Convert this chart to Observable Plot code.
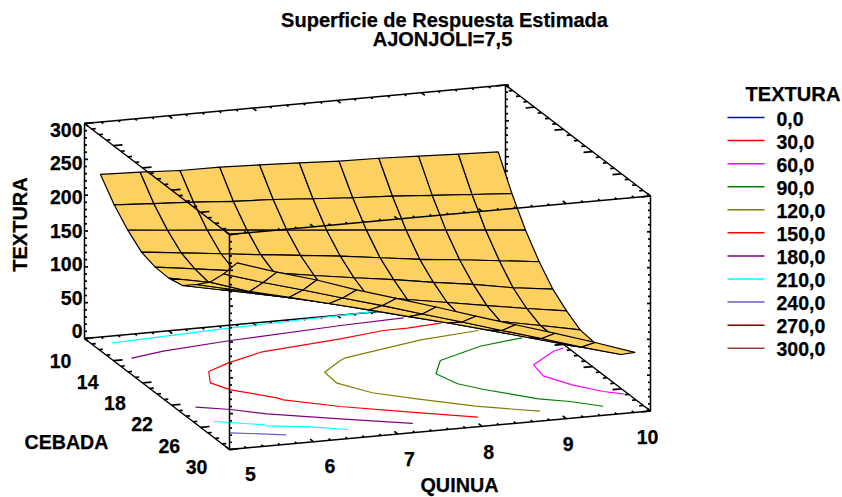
<!DOCTYPE html>
<html><head><meta charset="utf-8">
<style>html,body{margin:0;padding:0;background:#fff}svg{display:block}</style>
<script src="https://cdn.jsdelivr.net/npm/d3@7"></script>
<script src="https://cdn.jsdelivr.net/npm/@observablehq/plot@0.6"></script>
</head><body><div id="chart"></div>
<script>
// ---------- data ----------
const quinuaGrid = [5,5.5,6,6.5,7,7.5,8,8.5,9,9.5,10];
const cebadaGrid = [10,12,14,16,18,20,22,24,26,28,30];
// estimated TEXTURA by cebada row (columns follow quinuaGrid)
const z10 = [230.5,228.5,225.6,225.1,223.2,220.8,217.8,216.8,214.5,212,210.2];
const z12 = [201.2,197.4,194.3,190,187.5,183.2,179.3,176.2,172,168,164.1];
const z14 = [179.2,173.7,168.4,163.1,157.6,152.3,147,141.5,136.2,130.8,125.4];
const z16 = [162.2,155.9,149.1,142.3,135.8,129.4,121.7,113.8,108,101.1,94.3];
const z18 = [155.6,147.7,139.2,130.9,121.7,113,104.8,95.3,87,76.7,69.3];
const z20 = [154.8,143.4,132.5,121.9,111.4,101.6,91,81.2,71.3,61.6,52.6];
const z22 = [159.4,147.4,135.5,123.3,112.1,100,88,76.1,63.2,52,40.2];
const z24 = [176.4,162.9,148.7,135.2,121,107.4,93.2,79.8,65.4,51.3,37.4];
const z26 = [195.3,176.2,162.3,147.7,132.8,117.7,102.8,87,70.6,54.1,41.4];
const z28 = [222.9,205,188.5,171.3,154.8,136.9,119.8,101.8,84.6,66.6,50.2];
const z30 = [254.8,235.8,218.8,198.8,180.8,162.8,143.8,125.8,107.8,88.8,68.8];
const surfaceRows = [z10,z12,z14,z16,z18,z20,z22,z24,z26,z28,z30];

// floor contours: [quinua, cebada] pairs
const c60  = [[9.94,18.60],[9.80,18.95],[9.40,20.85],[9.35,22.76],[9.53,24.63],[9.77,26.17],[9.95,26.83]];
const c90  = [[9.65,16.33],[9.09,17.07],[8.47,18.78],[8.24,20.85],[8.33,22.78],[8.53,24.09],[8.98,26.39],[9.28,27.29],[9.56,28.53]];
const c120 = [[9.29,14.51],[8.55,15.16],[7.50,16.95],[7.41,17.31],[7.08,18.96],[7.06,20.91],[7.30,22.97],[7.69,24.60],[8.21,26.65],[8.82,28.40]];
const c150 = [[8.99,12.78],[8.57,13.09],[8.28,13.11],[7.71,13.82],[6.68,14.80],[6.19,16.04],[5.86,17.14],[5.72,18.99],[5.84,20.41],[6.22,22.38],[6.26,22.80],[6.77,24.71],[7.44,26.66],[8.08,28.45]];
const c180a = [[5.23,13.87],[5.66,13.20],[6.52,12.47],[7.90,11.68],[8.67,11.36]];
const c180b = [[5.23,22.70],[5.57,23.58],[5.89,24.81],[6.60,26.69],[7.30,28.50]];
const c210a = [[5.24,11.11],[6.67,10.46],[8.49,9.90]];
const c210b = [[5.23,25.27],[5.71,26.53],[5.73,26.74],[6.17,27.54],[6.53,28.52]];
const c240 = [[5.24,27.33],[5.80,28.46]];

const legendLabels = ["0,0","30,0","60,0","90,0","120,0","150,0","180,0","210,0","240,0","270,0","300,0"];
const legendColors = ["#0000ff","#ff0000","#ff00ff","#008000","#808000","#ff0000","#800080","#00ffff","#6a5acd","#800000","#a04040"];
const texturaTicks = [0,50,100,150,200,250,300];
const cebadaTicks = [10,14,18,22,26,30];
const quinuaTicks = [5,6,7,8,9,10];

// ---------- projections (oblique view) ----------
const FONT = "'Liberation Sans', Arial, sans-serif";
const boxX = (q,c) => 84 + 84.2*(q-5) + 7.25*(c-10);
const boxY = (q,c,z) => 338 - 7.7*(q-5) + 5.55*(c-10) - (215/300)*z;
const P = (q,c,z) => ({x:boxX(q,c), y:boxY(q,c,z)});
const surfX = (q,c) => 100 + 79.54*(q-5) + 6.835*(c-10);
const surfY = (q,c,z) => 330 - 7.28*(q-5) + 5.245*(c-10) - 0.677*z;
const S = (q,c,z) => ({x:surfX(q,c), y:surfY(q,c,z)});

// ---------- derived tables ----------
const quads = [];
for (let j=0;j<cebadaGrid.length-1;j++) for (let i=0;i<quinuaGrid.length-1;i++) {
  const k = j*100+i;
  [[i,j],[i+1,j],[i+1,j+1],[i,j+1],[i,j]].forEach(([a,b],o)=>{
    const p = S(quinuaGrid[a],cebadaGrid[b],surfaceRows[b][a]);
    quads.push({k,o,x:p.x,y:p.y});
  });
}
const contour = (pts,color) => Plot.line(pts.map(([q,c])=>P(q,c,0)),{x:"x",y:"y",stroke:color,strokeWidth:1.2});
const edge = (a,b) => ({x1:P(...a).x,y1:P(...a).y,x2:P(...b).x,y2:P(...b).y});
const edges = l => Plot.link(l,{x1:"x1",y1:"y1",x2:"x2",y2:"y2",stroke:"#000000",strokeWidth:1.5});

const steps = (a,b,s) => d3.range(Math.round((b-a)/s)+1).map(n=>a+n*s);
// tick builders: sign gives the side, lengths are in pixels
function zTicks(q,c,sign){
  return steps(0,300,10).map(z=>{const p=P(q,c,z),l=z%50===0?3.5:2.5;return {x1:p.x,y1:p.y,x2:p.x+sign*l,y2:p.y};});
}
function cTicks(q,z,sign){
  return steps(10,30,1).map(c=>{const p=P(q,c,z),l=(c-10)%4===0?9:4;
    return {x1:p.x,y1:p.y,x2:p.x+sign*l,y2:p.y-sign*l*0.09};});
}
function qTicks(c,z,sign){
  return steps(5,10,0.2).map(q=>{const p=P(q,c,z),r=Math.abs(q-Math.round(q))<1e-6,l=r?4.5:2.5;
    return {x1:p.x,y1:p.y,x2:p.x+sign*l*0.79,y2:p.y+sign*l*0.61};});
}
const thin = l => Plot.link(l,{x1:"x1",y1:"y1",x2:"x2",y2:"y2",stroke:"#000000",strokeWidth:1.7});

const txt = (d,o) => Plot.text(d,{fontFamily:FONT,fontWeight:"bold",fontSize:19.5,fill:"#000",stroke:"#000",strokeWidth:0.25,...o});

const chart = Plot.plot({
  width:842,height:497,margin:0,
  x:{domain:[0,842],range:[0,842],axis:null},
  y:{domain:[0,497],range:[0,497],axis:null},
  style:{background:"#fff"},
  marks:[
    // back and floor of the box
    edges([
      edge([5,10,0],[10,10,0]),edge([5,10,0],[5,10,300]),edge([10,10,0],[10,10,300]),
      edge([5,10,300],[10,10,300]),edge([5,10,0],[5,30,0]),edge([10,10,0],[10,30,0]),
      edge([5,30,0],[10,30,0]),edge([10,30,0],[10,30,300]),edge([10,10,300],[10,30,300])
    ]),
    thin(zTicks(5,10,1)),thin(zTicks(10,10,1)),thin(zTicks(10,30,-1)),
    thin(cTicks(5,0,1)),thin(cTicks(10,0,-1)),thin(cTicks(10,300,-1)),
    thin(qTicks(10,300,1)),thin(qTicks(30,0,-1)),thin(qTicks(10,0,1)),
    // floor contours
    contour(c60,legendColors[2]),contour(c90,legendColors[3]),contour(c120,legendColors[4]),
    contour(c150,legendColors[5]),contour(c180a,legendColors[6]),contour(c180b,legendColors[6]),
    contour(c210a,legendColors[7]),contour(c210b,legendColors[7]),contour(c240,legendColors[8]),
    // surface
    Plot.line(quads,{x:"x",y:"y",z:"k",fill:"#fdd062",stroke:"#000000",strokeWidth:1.2,strokeLinejoin:"round"}),
    // front of the box
    edges([edge([5,10,300],[5,30,300]),edge([5,30,300],[10,30,300]),edge([5,30,0],[5,30,300])]),
    thin(zTicks(5,30,1)),thin(cTicks(5,300,1)),thin(qTicks(30,300,-1)),
    // axis labels
    txt(texturaTicks,{x:()=>82,y:z=>331.7-z*0.672,text:d=>String(d),textAnchor:"end"}),
    txt(cebadaTicks,{x:c=>60+(c-10)*6.8,y:c=>361+(c-10)*5.3,text:d=>String(d)}),
    txt(quinuaTicks,{x:q=>250+(q-5)*79.4,y:q=>474-(q-5)*7.4,text:d=>String(d)}),
    txt(["TEXTURA"],{x:()=>20,y:()=>224,rotate:-90,fontSize:20}),
    txt(["CEBADA"],{x:()=>66,y:()=>442,fontSize:19.6}),
    txt(["QUINUA"],{x:()=>459,y:()=>485,fontSize:19.8}),
    // titles
    txt(["Superficie de Respuesta Estimada"],{x:()=>444,y:()=>20.5,fontSize:20}),
    txt(["AJONJOLI=7,5"],{x:()=>442,y:()=>39.5,fontSize:20}),
    // legend
    txt(["TEXTURA"],{x:()=>745,y:()=>94,textAnchor:"start",fontSize:20.1}),
    ...legendLabels.map((d,i)=>Plot.link([d],{x1:()=>727,x2:()=>764,y1:()=>117+i*23.07,y2:()=>117+i*23.07,stroke:legendColors[i],strokeWidth:1.5})),
    txt(legendLabels,{x:()=>776,y:(d,i)=>119+i*23.07,text:d=>d,textAnchor:"start"})
  ]
});
document.getElementById("chart").appendChild(chart);
</script></body></html>
